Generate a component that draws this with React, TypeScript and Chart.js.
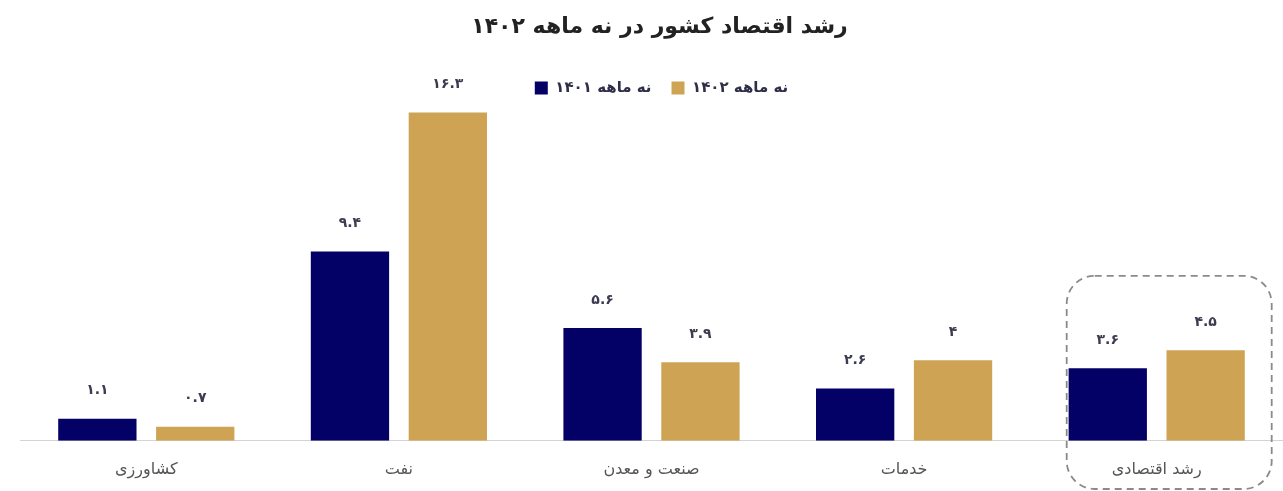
import React, { useEffect, useRef } from 'react';
import { Chart, registerables } from 'chart.js';

Chart.register(...registerables);

const TITLE = 'رشد اقتصاد کشور در نه ماهه ۱۴۰۲';
const categories = ['کشاورزی', 'نفت', 'صنعت و معدن', 'خدمات', 'رشد اقتصادی'];
const seriesNames = ['نه ماهه ۱۴۰۱', 'نه ماهه ۱۴۰۲'];
const values1401 = [1.1, 9.4, 5.6, 2.6, 3.6];
const values1402 = [0.7, 16.3, 3.9, 4, 4.5];
const highlightIndex = 4;

const NAVY = '#030166';
const GOLD = '#CEA454';
const FONT = '"DejaVu Sans", sans-serif';

const toFa = (v: number) => String(v).replace(/\d/g, (d) => '۰۱۲۳۴۵۶۷۸۹'[+d]);

const valueLabels = {
  id: 'valueLabels',
  afterDatasetsDraw(chart: any) {
    const ctx = chart.ctx;
    ctx.save();
    ctx.font = `bold 14px ${FONT}`;
    ctx.fillStyle = '#3c3c50';
    ctx.textAlign = 'center';
    ctx.textBaseline = 'middle';
    chart.data.datasets.forEach((ds: any, i: number) => {
      const meta = chart.getDatasetMeta(i);
      meta.data.forEach((el: any, j: number) => {
        ctx.fillText(toFa(ds.data[j]), el.x, el.y - 28);
      });
    });
    ctx.restore();
  },
};

const headerShift = {
  id: 'headerShift',
  afterLayout(chart: any) {
    if (chart.legend) {
      chart.legend.left += 10;
      chart.legend.right += 10;
    }
    if (chart.titleBlock) {
      chart.titleBlock.left += 8;
      chart.titleBlock.right += 8;
    }
  },
};

const highlightBox = {
  id: 'highlightBox',
  afterDraw(chart: any) {
    const ctx = chart.ctx;
    const xs = chart.scales.x;
    const cx = xs.getPixelForValue(highlightIndex);
    const left = cx - 90;
    const right = cx + 115;
    const top = chart.chartArea.bottom - 165;
    const bottom = chart.height - 2;
    const r = 28;
    ctx.save();
    ctx.strokeStyle = '#8a8a8a';
    ctx.lineWidth = 1.8;
    ctx.setLineDash([7, 5]);
    ctx.beginPath();
    ctx.roundRect(left, top, right - left, bottom - top, r);
    ctx.stroke();
    ctx.restore();
  },
};

export default function App() {
  const ref = useRef<HTMLCanvasElement | null>(null);

  useEffect(() => {
    if (!ref.current) return;
    const chart = new Chart(ref.current, {
      type: 'bar',
      data: {
        labels: categories,
        datasets: [
          {
            label: seriesNames[0],
            data: values1401,
            backgroundColor: NAVY,
            barPercentage: 0.8,
            categoryPercentage: 0.775,
          },
          {
            label: seriesNames[1],
            data: values1402,
            backgroundColor: GOLD,
            barPercentage: 0.8,
            categoryPercentage: 0.775,
          },
        ],
      },
      options: {
        responsive: true,
        maintainAspectRatio: false,
        animation: false,
        layout: { padding: { left: 20, right: 0, top: 0, bottom: -7 } },
        plugins: {
          title: {
            display: true,
            text: TITLE,
            fullSize: false,
            color: '#222',
            font: { family: FONT, size: 22, weight: 'bold' },
            padding: { top: 14, bottom: 20 },
          },
          legend: {
            display: true,
            fullSize: false,
            labels: {
              boxWidth: 13,
              boxHeight: 13,
              padding: 20,
              color: '#2e2e48',
              font: { family: FONT, size: 15, weight: 'bold' },
            },
          },
          tooltip: { enabled: false },
        },
        scales: {
          x: {
            grid: { display: false, drawTicks: false },
            border: { display: true, color: '#d4d4d4', width: 1 },
            ticks: {
              color: '#555',
              padding: 19,
              font: { family: FONT, size: 16 },
            },
          },
          y: {
            display: false,
            min: 0,
            max: 16.65,
          },
        },
      },
      plugins: [valueLabels, headerShift, highlightBox],
    });
    return () => chart.destroy();
  }, []);

  return (
    <div style={{ position: 'absolute', left: 0, top: 0, width: 1283, height: 491, background: '#fff' }}>
      <canvas ref={ref} />
    </div>
  );
}
